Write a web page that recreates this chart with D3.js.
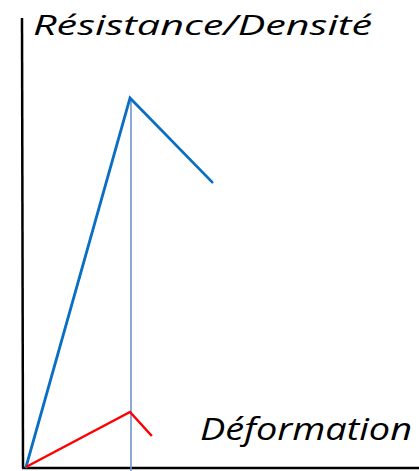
<!DOCTYPE html>
<html>
<head>
<meta charset="utf-8">
<script src="https://cdn.jsdelivr.net/npm/d3@7"></script>
<style>
  html, body { margin: 0; padding: 0; background: #fff; }
  svg { display: block; }
</style>
</head>
<body>
<div id="chart"></div>
<script>
// courbes (unités arbitraires : déformation, résistance)
const strengthX = [0, 1, 1.79];
const strengthY = [0, 1, 0.772];
const densityX = [0, 1, 1.21];
const densityY = [0, 0.149, 0.084];
const peakX = 1;
const yLabel = 'Résistance/Densité';
const xLabel = 'Déformation';

const width = 419, height = 471;
const svg = d3.select('#chart').append('svg')
  .attr('width', width)
  .attr('height', height);

const x = d3.scaleLinear().domain([0, 1]).range([26, 130]);
const y = d3.scaleLinear().domain([0, 1]).range([467, 98]);

// axes (sans graduations)
svg.append('line')
  .attr('x1', 22).attr('x2', 23)
  .attr('y1', 18).attr('y2', y(0) + 1)
  .attr('stroke', '#000').attr('stroke-width', 2.5);
svg.append('line')
  .attr('x1', 22).attr('x2', width)
  .attr('y1', y(0) + 1).attr('y2', y(0) + 1)
  .attr('stroke', '#000').attr('stroke-width', 2.5);

// ligne verticale au pic
svg.append('line')
  .attr('x1', x(peakX) + 1).attr('x2', x(peakX) + 1)
  .attr('y1', y(1)).attr('y2', height)
  .attr('stroke', '#6f94cf').attr('stroke-width', 1.6);

const line = d3.line().x(d => x(d[0])).y(d => y(d[1]));

svg.append('path')
  .attr('d', line(d3.zip(strengthX, strengthY)))
  .attr('fill', 'none')
  .attr('stroke', '#0a6fc2')
  .attr('stroke-width', 2.8)
  .attr('stroke-linejoin', 'miter')
  .attr('stroke-linecap', 'round');

svg.append('path')
  .attr('d', line(d3.zip(densityX, densityY)))
  .attr('fill', 'none')
  .attr('stroke', '#ff0000')
  .attr('stroke-width', 2.5)
  .attr('stroke-linejoin', 'miter');

svg.append('text')
  .attr('x', 33).attr('y', 35)
  .attr('font-family', 'Open Sans, sans-serif')
  .attr('font-style', 'italic')
  .attr('font-size', 28)
  .attr('textLength', 339)
  .attr('lengthAdjust', 'spacingAndGlyphs')
  .attr('fill', '#000')
  .text(yLabel);

svg.append('text')
  .attr('x', 200).attr('y', 440)
  .attr('font-family', 'Open Sans, sans-serif')
  .attr('font-style', 'italic')
  .attr('font-size', 31)
  .attr('textLength', 212)
  .attr('lengthAdjust', 'spacingAndGlyphs')
  .attr('fill', '#000')
  .text(xLabel);
</script>
</body>
</html>
